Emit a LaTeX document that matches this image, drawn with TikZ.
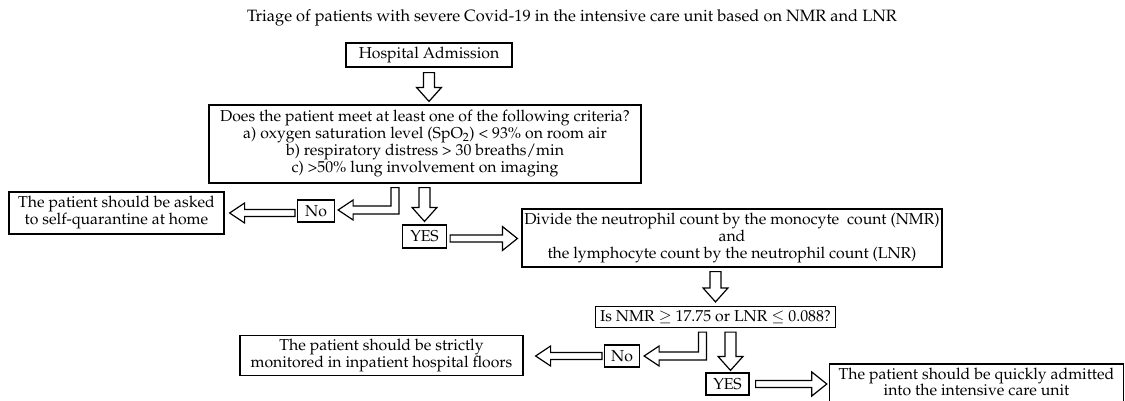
\documentclass[tikz,border=0pt]{standalone}
\usepackage[T1]{fontenc}
\usepackage{mathpazo}
\usetikzlibrary{calc}
\tikzset{
  boxline/.style={draw=black, line width=1.2pt},
  box/.style={boxline, fill=white, inner sep=0pt, align=center, font=\fontsize{15.8}{17}\selectfont},
  txt/.style={inner sep=0pt, align=center, font=\fontsize{15.8}{17}\selectfont},
  blk/.style={draw=black, fill=white, line width=1.2pt, line join=miter},
}
% hollow block arrows, from start point #1 to tip #2
\newcommand\blockdown[2]{\draw[blk] let \p1=#1, \p2=#2 in
  (\x1-5.5pt,\y1) -- (\x1+5.5pt,\y1) -- (\x1+5.5pt,\y2+14pt) -- (\x1+12.5pt,\y2+14pt)
  -- (\x1,\y2) -- (\x1-12.5pt,\y2+14pt) -- (\x1-5.5pt,\y2+14pt) -- cycle;}
\newcommand\blockright[2]{\draw[blk] let \p1=#1, \p2=#2 in
  (\x1,\y1-3.5pt) -- (\x2-15pt,\y1-3.5pt) -- (\x2-15pt,\y1-12pt) -- (\x2,\y1)
  -- (\x2-15pt,\y1+12pt) -- (\x2-15pt,\y1+3.5pt) -- (\x1,\y1+3.5pt) -- cycle;}
\newcommand\blockleft[2]{\draw[blk] let \p1=#1, \p2=#2 in
  (\x1,\y1+3.5pt) -- (\x2+15pt,\y1+3.5pt) -- (\x2+15pt,\y1+10pt) -- (\x2,\y1)
  -- (\x2+15pt,\y1-10pt) -- (\x2+15pt,\y1-3.5pt) -- (\x1,\y1-3.5pt) -- cycle;}
\newcommand\blockbent[2]{\draw[blk] let \p1=#1, \p2=#2 in
  (\x1-4pt,\y1) -- (\x1+4pt,\y1) -- (\x1+4pt,\y2-4pt) -- (\x2+15pt,\y2-4pt)
  -- (\x2+15pt,\y2-10pt) -- (\x2,\y2) -- (\x2+15pt,\y2+10pt) -- (\x2+15pt,\y2+4pt)
  -- (\x1-4pt,\y2+4pt) -- cycle;}
\begin{document}
\begin{tikzpicture}[x=1pt,y=-1pt]
\useasboundingbox[fill=white] (0,0) rectangle (1125,400);

\node[txt, font=\fontsize{16.4}{18}\selectfont] (title) at (572,18)
  {Triage of patients with severe Covid-19 in the intensive care unit based on NMR and LNR};

\node[box, minimum width=166, minimum height=24] (hosp) at (429,55) {Hospital Admission};
\node[box, minimum width=432, minimum height=78] (q) at (425,144)
  {Does the patient meet at least one of the following criteria?\\
   a) oxygen saturation level (SpO\textsubscript{2}) \textless{} 93\% on room air\\
   b) respiratory distress \textgreater{} 30 breaths/min\\
   c) \textgreater50\% lung involvement on imaging};
\node[box, minimum width=215, minimum height=42] (home) at (116.5,213)
  {The patient should be asked\\to self-quarantine at home};
\node[box, minimum width=37, minimum height=22] (no1) at (316,211) {No};
\node[box, minimum width=44, minimum height=23] (yes1) at (424.5,236.5) {YES};
\node[box, minimum width=420, minimum height=58] (divide) at (732,238)
  {Divide the neutrophil count by the monocyte\ \ count (NMR)\\and\\the lymphocyte count by the neutrophil count (LNR)};
\node[box, minimum width=240, minimum height=21] (nmr) at (715.5,317)
  {Is NMR $\geq$ 17.75 or LNR $\leq$ 0.088?};
\node[box, minimum width=35, minimum height=22] (no2) at (622,356) {No};
\node[box, minimum width=283, minimum height=40] (strict) at (381.5,355.5)
  {The patient should be strictly\\monitored in inpatient hospital floors};
\node[box, minimum width=43, minimum height=22] (yes2) at (727.5,384) {YES};
\node[txt, minimum width=293, anchor=north, inner ysep=3.5pt, font=\fontsize{15.8}{16.5}\selectfont] (final) at (976.5,364)
  {The patient should be quickly admitted\\into the intensive care unit};
\draw[boxline] ($(final.south west)+(0,30)$) -- (final.north west) -- (final.north east) -- ($(final.south east)+(0,30)$);

% connectors
\blockdown{($(hosp.south)+(0,5)$)}{($(q.north |- q.north)+(4,-3)$)}
\blockbent{($(q.south)+(-30,4)$)}{($(no1.east)+(3,-1)$)}
\blockdown{($(yes1.north |- q.south)+(0,4)$)}{($(yes1.north)+(0,-3)$)}
\blockleft{($(no1.west)+(-2,2)$)}{($(home.east)+(5,0)$)}
\blockright{($(yes1.east)+(3,2)$)}{($(divide.west |- yes1.east)+(-4,2)$)}
\blockdown{($(nmr.north |- divide.south)+(0,4)$)}{($(nmr.north)+(0,-4)$)}
\blockbent{($(nmr.south)+(-13,4)$)}{($(no2.east)+(4,0)$)}
\blockdown{($(yes2.north |- nmr.south)+(3,4)$)}{($(yes2.north)+(3,-2)$)}
\blockleft{($(no2.west)+(-2,0)$)}{($(strict.east)+(12,0)$)}
\blockright{($(yes2.east)+(6,0)$)}{($(final.west |- yes2.east)+(-3,0)$)}
\end{tikzpicture}
\end{document}
